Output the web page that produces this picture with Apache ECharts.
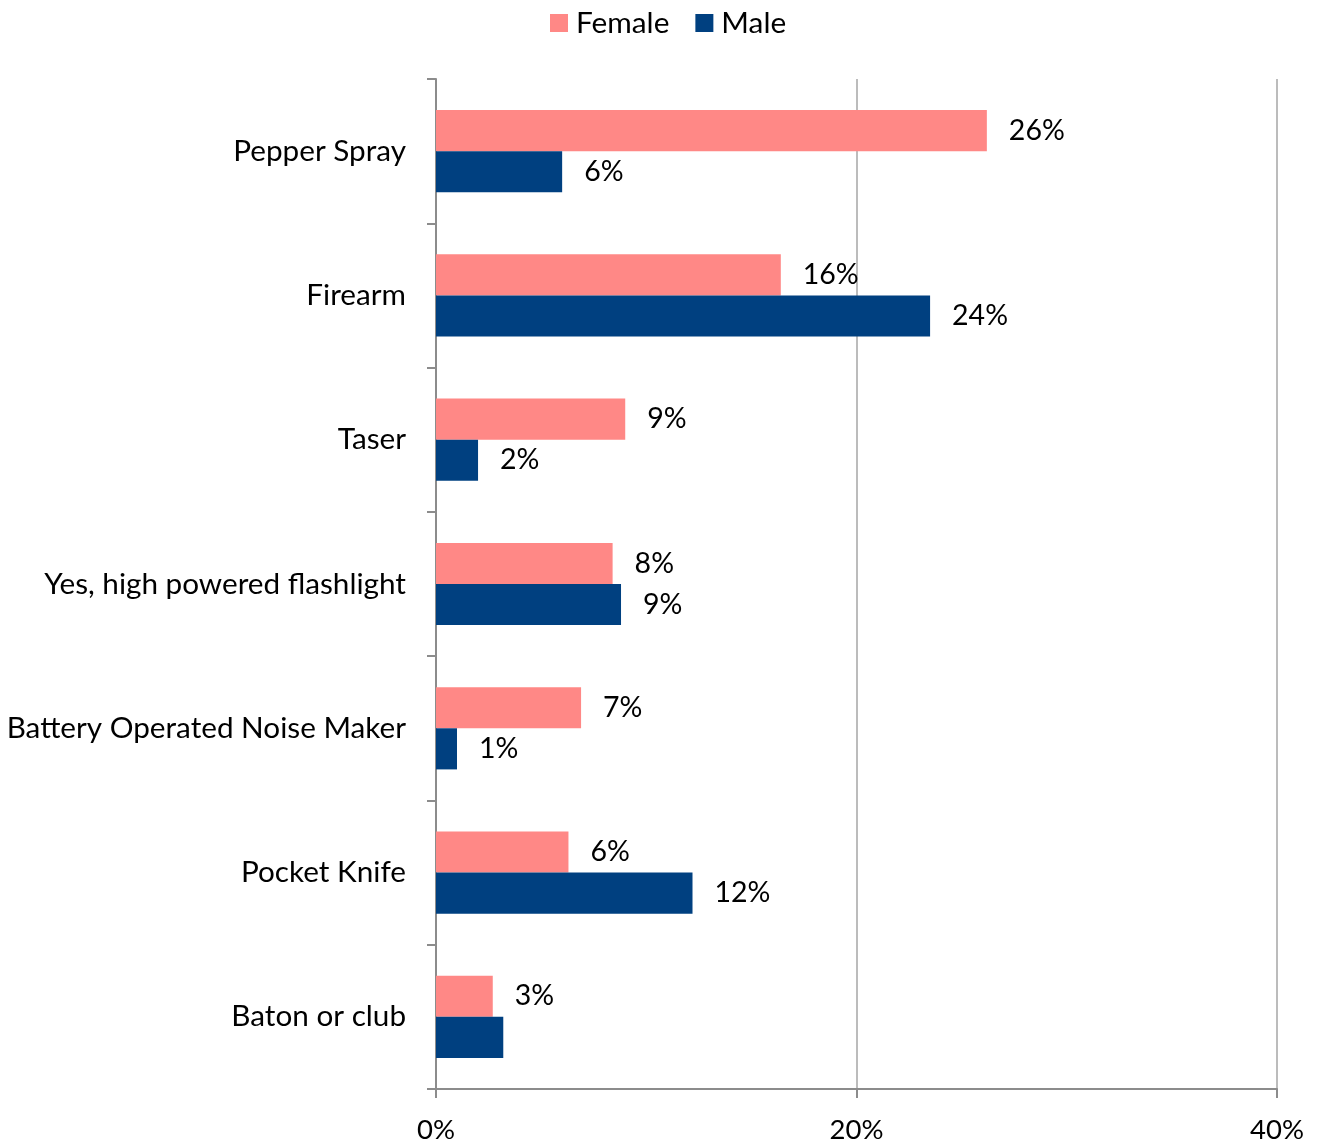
<!DOCTYPE html>
<html>
<head>
<meta charset="utf-8">
<script src="https://cdn.jsdelivr.net/npm/echarts@6/dist/echarts.min.js"></script>
<style>
html,body{margin:0;padding:0;background:#fff;}
#chart{width:1321px;height:1144px;}
</style>
</head>
<body>
<div id="chart"></div>
<script>
const categories = ["Pepper Spray", "Firearm", "Taser", "Yes, high powered flashlight", "Battery Operated Noise Maker", "Pocket Knife", "Baton or club"];
const femaleValues = [26.2, 16.4, 9.0, 8.4, 6.9, 6.3, 2.7];
const maleValues = [6.0, 23.5, 2.0, 8.8, 1.0, 12.2, 3.2];
const femaleLabels = ["26%", "16%", "9%", "8%", "7%", "6%", "3%"];
const maleLabels = ["6%", "24%", "2%", "9%", "1%", "12%", ""];
const seriesNames = ["Female", "Male"];

const FONT = 'Lato, "Open Sans", sans-serif';
const chart = echarts.init(document.getElementById('chart'));
function labelCfg(texts) {
  return {
    show: true,
    position: 'right',
    distance: 22,
    color: '#000',
    fontFamily: FONT,
    fontSize: 28.5,
    formatter: p => texts[p.dataIndex]
  };
}
chart.setOption({
  animation: false,
  textStyle: { fontFamily: FONT },
  legend: {
    top: 3,
    left: 545,
    padding: 5,
    icon: 'rect',
    itemWidth: 18,
    itemHeight: 18,
    itemGap: 26,
    textStyle: { fontFamily: FONT, fontSize: 29.8, color: '#000', padding: [0, 0, 0, 3] },
    data: seriesNames
  },
  grid: { left: 436, right: 44, top: 79, bottom: 54, containLabel: false },
  xAxis: {
    type: 'value',
    min: 0, max: 40, interval: 20,
    axisLine: { show: true, lineStyle: { color: '#8C8C8C', width: 2 } },
    axisTick: { show: true, length: 9, lineStyle: { color: '#8C8C8C', width: 2 } },
    splitLine: { show: true, lineStyle: { color: '#A6A6A6', width: 1.5 } },
    axisLabel: { formatter: '{value}%', fontFamily: FONT, fontSize: 27.5, color: '#000', margin: 27 }
  },
  yAxis: {
    type: 'category',
    inverse: true,
    data: categories,
    axisLine: { show: true, lineStyle: { color: '#8C8C8C', width: 2 } },
    axisTick: { show: true, length: 9, lineStyle: { color: '#8C8C8C', width: 2 } },
    axisLabel: { fontFamily: FONT, fontSize: 29.7, color: '#000', margin: 30 }
  },
  series: [
    { name: seriesNames[0], type: 'bar', data: femaleValues, barGap: '0%', barCategoryGap: '43%',
      itemStyle: { color: '#FF8886' }, label: labelCfg(femaleLabels) },
    { name: seriesNames[1], type: 'bar', data: maleValues, barGap: '0%', barCategoryGap: '43%',
      itemStyle: { color: '#004080' }, label: labelCfg(maleLabels) }
  ]
});
</script>
</body>
</html>
